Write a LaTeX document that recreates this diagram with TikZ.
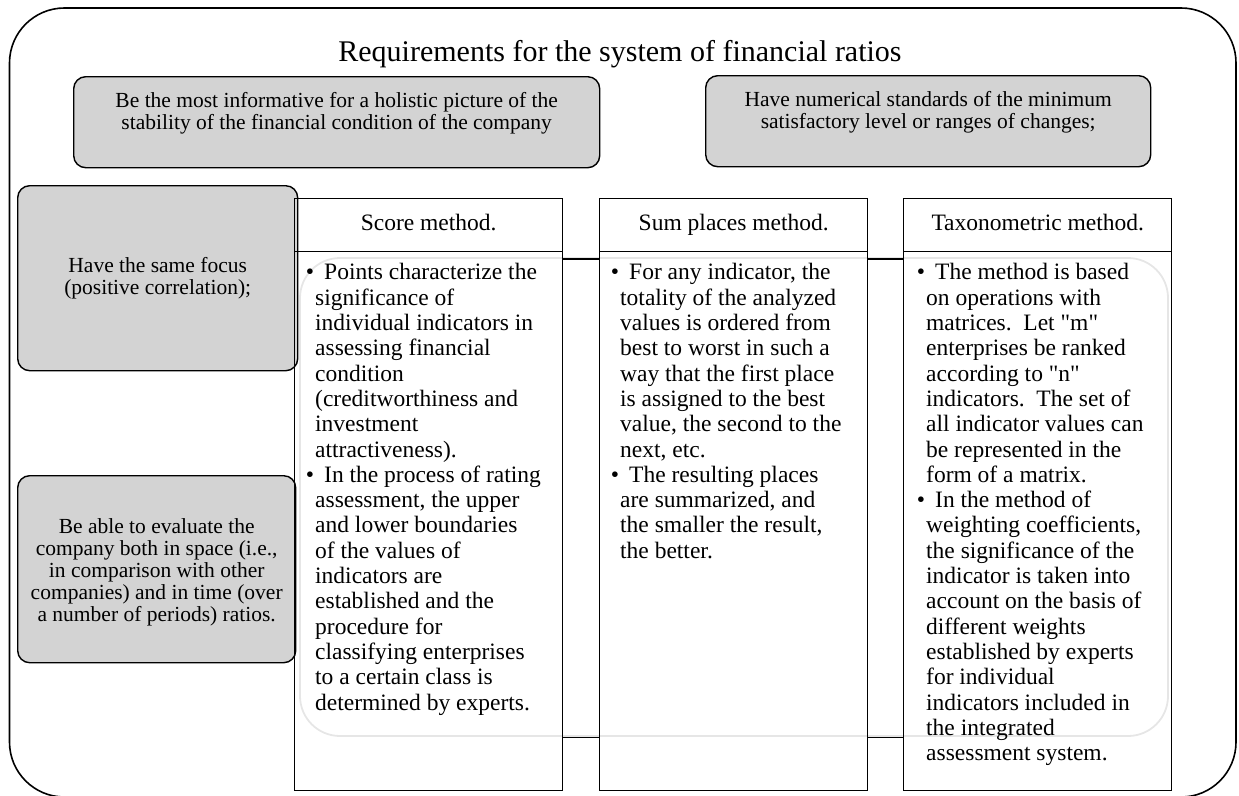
\documentclass[tikz,border=0pt]{standalone}
\usepackage{fontspec}
\setmainfont{Liberation Serif}
\newfontfamily\plainq{Liberation Serif}
\usetikzlibrary{calc}
\definecolor{boxgray}{RGB}{211,211,211}
\definecolor{faintline}{RGB}{230,230,230}
\newcommand{\bul}{\llap{\textbullet\hspace{1pt}}\hspace{9pt}}
\newcommand{\sq}{{\plainq"}}
\begin{document}
\begin{tikzpicture}[x=1pt,y=-1pt,
  graybox/.style={draw=black, line width=1.4pt, fill=boxgray, rounded corners=12pt, inner sep=0pt, anchor=north west},
  boxtext/.style={align=center, inner sep=0pt, font=\rmfamily\fontsize{21.5}{22}\selectfont},
  colhead/.style={draw=black, line width=1.4pt, inner sep=0pt, anchor=north west,
    minimum width=268pt, minimum height=53pt, text height=16pt, text depth=5pt,
    font=\rmfamily\fontsize{23.5}{25.2}\selectfont},
  colbody/.style={draw=black, line width=1.4pt, inner sep=0pt, anchor=north west,
    minimum width=268pt, minimum height=539pt},
  bodytext/.style={anchor=north west, align=left, inner sep=0pt, font=\rmfamily\fontsize{23.5}{25.3}\selectfont},
  link/.style={draw=black, line width=1.4pt}
]
\useasboundingbox (0,0) rectangle (1239,795);

% outer frame
\draw[line width=1.6pt, rounded corners=55pt] (9.5,8) rectangle (1236,797);

% title
\node[anchor=base, inner sep=0pt, font=\rmfamily\fontsize{30}{32}\selectfont] (title) at (620,61)
  {Requirements for the system of financial ratios};

% top gray boxes
\node[graybox, minimum width=526pt, minimum height=91pt] (req1) at (73,76) {};
\node[boxtext] (req1t) at ($(req1.center)+(0,-9)$)
  {Be the most informative for a holistic picture of the\\stability of the financial condition of the company};
\node[graybox, minimum width=445pt, minimum height=91pt] (req2) at (705,75) {};
\node[boxtext] (req2t) at ($(req2.center)+(0,-9)$)
  {Have numerical standards of the minimum\\satisfactory level or ranges of changes;};

% left gray boxes
\node[graybox, minimum width=280pt, minimum height=185pt] (req3) at (17,185) {};
\node[boxtext] (req3t) at (req3.center) {Have the same focus\\(positive correlation);};
\node[graybox, minimum width=278pt, minimum height=187pt] (req4) at (17,475) {};
\node[boxtext] (req4t) at ($(req4.center)+(0,3)$)
  {Be able to evaluate the\\company both in space (i.e.,\\in comparison with other\\companies) and in time (over\\a number of periods) ratios.};

% faint background frame
\draw[faintline, line width=1.8pt, rounded corners=40pt] (300,258) rectangle (1168,736);

% columns
\node[colhead] (hScore) at (294,198) {Score method.};
\node[colbody] (bScore) at (294,251) {};
\node[colhead] (hSum) at (599,198) {Sum places method.};
\node[colbody] (bSum) at (599,251) {};
\node[colhead] (hTax) at (903,198) {Taxonometric method.};
\node[colbody] (bTax) at (903,251) {};

% connectors between columns
\draw[link] ($(bScore.north east)+(0,8)$) -- ($(bSum.north west)+(0,8)$);
\draw[link] ($(bSum.north east)+(0,8)$) -- ($(bTax.north west)+(0,8)$);
\draw[link] ($(bScore.south east)+(0,-54)$) -- ($(bSum.south west)+(0,-54)$);
\draw[link] ($(bSum.south east)+(0,-54)$) -- ($(bTax.south west)+(0,-54)$);

% column texts
\node[bodytext] (tScore) at ($(bScore.north west)+(21,11)$) {\strut\bul Points characterize the\\
significance of\\
individual indicators in\\
assessing financial\\
condition\\
(creditworthiness and\\
investment\\
attractiveness).\\
\bul In the process of rating\\
assessment, the upper\\
and lower boundaries\\
of the values of\\
indicators are\\
established and the\\
procedure for\\
classifying enterprises\\
to a certain class is\\
determined by experts.};

\node[bodytext] (tSum) at ($(bSum.north west)+(21,11)$) {\strut\bul For any indicator, the\\
totality of the analyzed\\
values is ordered from\\
best to worst in such a\\
way that the first place\\
is assigned to the best\\
value, the second to the\\
next, etc.\\
\bul The resulting places\\
are summarized, and\\
the smaller the result,\\
the better.};

\node[bodytext] (tTax) at ($(bTax.north west)+(23,11)$) {\strut\bul The method is based\\
on operations with\\
matrices.\ \ Let \sq m\sq\\
enterprises be ranked\\
according to \sq n\sq\\
indicators.\ \ The set of\\
all indicator values can\\
be represented in the\\
form of a matrix.\\
\bul In the method of\\
weighting coefficients,\\
the significance of the\\
indicator is taken into\\
account on the basis of\\
different weights\\
established by experts\\
for individual\\
indicators included in\\
the integrated\\
assessment system.};
\end{tikzpicture}
\end{document}
